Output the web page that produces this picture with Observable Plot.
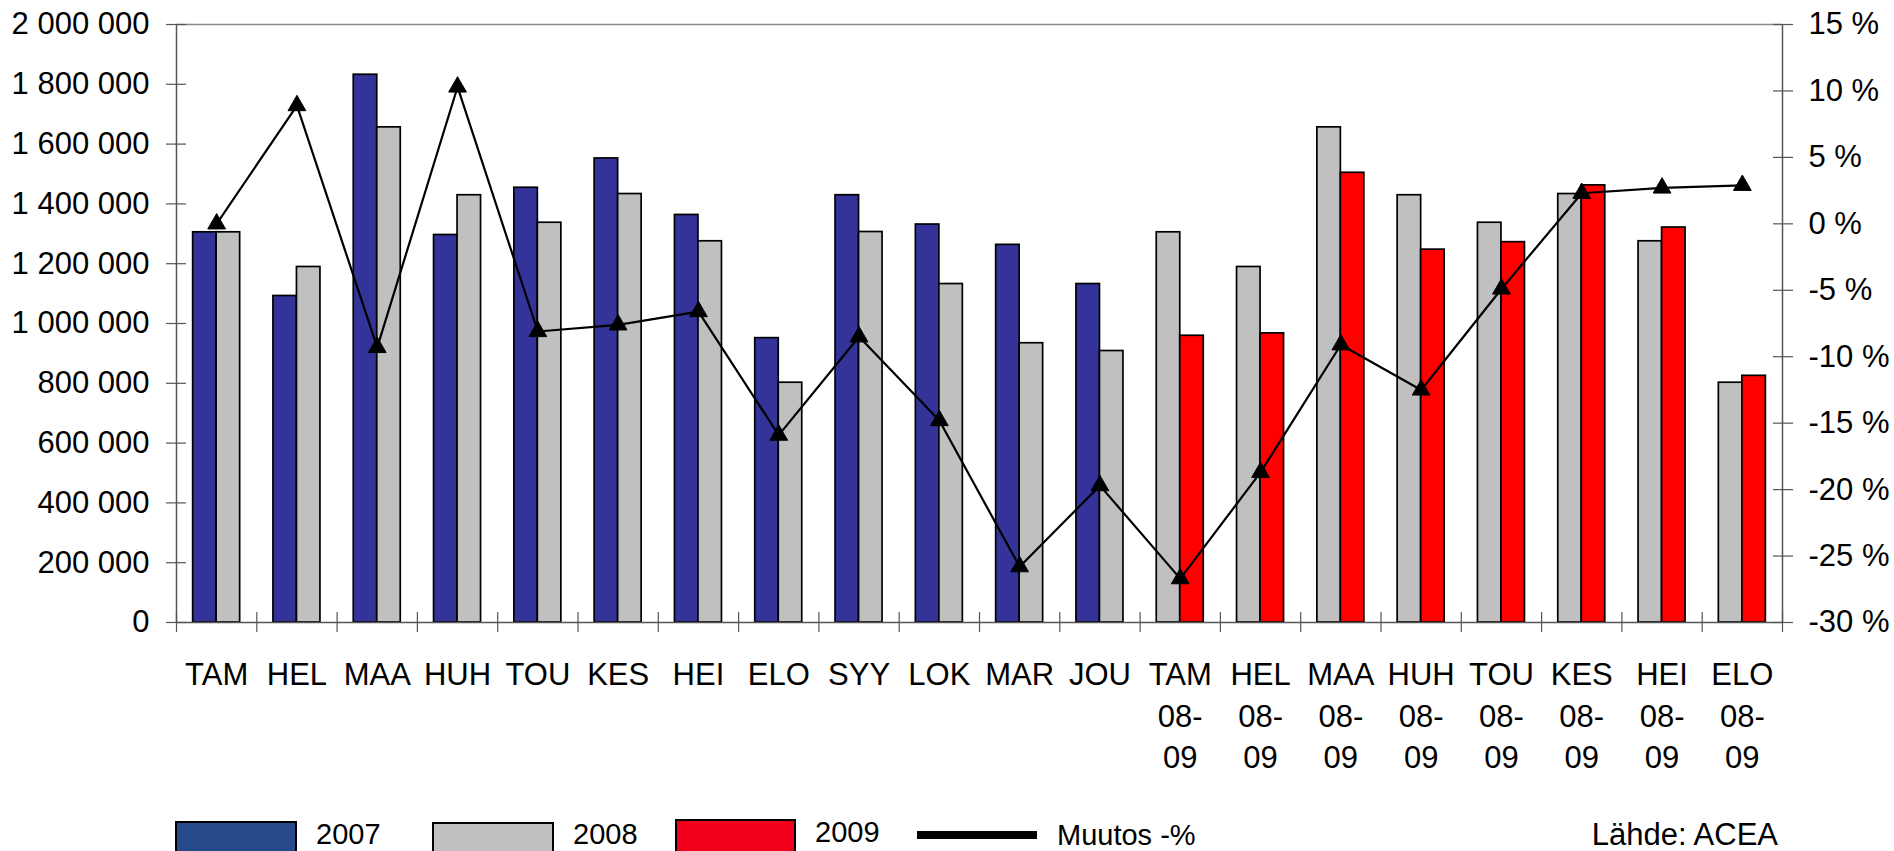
<!DOCTYPE html>
<html>
<head>
<meta charset="utf-8">
<script src="https://cdn.jsdelivr.net/npm/d3@7"></script>
<script src="https://cdn.jsdelivr.net/npm/@observablehq/plot@0.6"></script>
<style>
  html, body { margin: 0; padding: 0; background: #fff; overflow: hidden; }
  #chart svg { display: block; }
  #legend { position: relative; width: 1894px; height: 36px; overflow: hidden;
            font-family: "Liberation Sans", Arial, sans-serif; color: #000; }
  #legend .sw { position: absolute; box-sizing: border-box; height: 40px; border: 2px solid #000; }
  #legend .tx { position: absolute; font-size: 29px; line-height: 29px; white-space: nowrap; }
</style>
</head>
<body>
<div id="chart"></div>
<div id="legend"></div>
<script>
// ---- data ----
const categories = ["TAM","HEL","MAA","HUH","TOU","KES","HEI","ELO","SYY","LOK","MAR","JOU",
  "TAM 08-09","HEL 08-09","MAA 08-09","HUH 08-09","TOU 08-09","KES 08-09","HEI 08-09","ELO 08-09"];
const v2007 = [1305000,1092000,1832000,1296000,1454000,1552000,1363000,951000,1429000,1331000,1263000,1132000];
const v2008 = [1305000,1189000,1656000,1429000,1337000,1433000,1275000,802000,1306000,1132000,934000,908000];
const v2009 = [959000,967000,1504000,1247000,1272000,1462000,1321000,825000];
const change = [0.0,8.9,-9.3,10.3,-8.1,-7.6,-6.6,-15.9,-8.5,-14.8,-25.8,-19.7,-26.7,-18.7,-9.1,-12.5,-4.9,2.3,2.7,2.9];
const leftTicks = [0,200000,400000,600000,800000,1000000,1200000,1400000,1600000,1800000,2000000];
const pctTicks = [-30,-25,-20,-15,-10,-5,0,5,10,15];
const seriesNames = ["2007","2008","2009"];
const seriesColors = {"2007": "#333399", "2008": "#C0C0C0", "2009": "#FF0000"};

// ---- layout ----
const W = 1894, H = 815;
const mTop = 24, mBottom = H - 622, mLeft = 176, mRight = W - 1782;
const bandPx = (W - mLeft - mRight) / categories.length;
const barFrac = 23.5 / bandPx;          // single bar width as a fraction of a band
const yMax = 2000000, pMin = -30, pMax = 15;
const pctToY = p => (p - pMin) / (pMax - pMin) * yMax;
const yToPct = v => v / yMax * (pMax - pMin) + pMin;

const fmt = d3.formatLocale({decimal: ",", thousands: "\u00a0", grouping: [3], currency: ["", ""]}).format(",");

// ---- build tables ----
const bars = [];
categories.forEach((c, i) => {
  let left, right;
  if (i < 12) { left = {s: "2007", v: v2007[i]}; right = {s: "2008", v: v2008[i]}; }
  else { left = {s: "2008", v: v2008[i - 12]}; right = {s: "2009", v: v2009[i - 12]}; }
  bars.push({x1: i + 0.5 - barFrac, x2: i + 0.5, v: left.v, s: left.s});
  bars.push({x1: i + 0.5, x2: i + 0.5 + barFrac, v: right.v, s: right.s});
});
const line = change.map((p, i) => ({x: i + 0.5, y: pctToY(p)}));
const centers = categories.map((c, i) => i + 0.5);
const edges = d3.range(categories.length + 1);

const axisColor = "#555";

const chart = Plot.plot({
  width: W, height: H,
  marginTop: mTop, marginBottom: mBottom, marginLeft: mLeft, marginRight: mRight,
  style: {fontFamily: "'Liberation Sans', Arial, sans-serif", fontSize: "31px", background: "#fff", color: "#000"},
  x: {type: "linear", domain: [0, categories.length], axis: null},
  y: {domain: [0, yMax], axis: null},
  color: {domain: seriesNames, range: seriesNames.map(s => seriesColors[s])},
  marks: [
    // top border of plot area
    Plot.ruleY([yMax], {stroke: "#888", strokeWidth: 1.5}),
    // bars
    Plot.rectY(bars, {x1: "x1", x2: "x2", y1: 0, y2: "v", fill: "s", stroke: "#000", strokeWidth: 1.7}),
    // axis lines
    Plot.ruleX([0], {stroke: axisColor, strokeWidth: 1.5}),
    Plot.ruleX([categories.length], {stroke: axisColor, strokeWidth: 1.5}),
    Plot.ruleY([0], {stroke: axisColor, strokeWidth: 1.5}),
    // left axis: crossing ticks + labels
    Plot.axisY({anchor: "left", ticks: leftTicks, tickSize: 20, dx: 10, tickFormat: () => "", stroke: axisColor, strokeWidth: 1.2}),
    Plot.axisY({anchor: "left", ticks: leftTicks, tickSize: 0, tickPadding: 27, tickFormat: fmt, fontSize: 31, fill: "#000"}),
    // right axis (percent)
    Plot.axisY({anchor: "right", ticks: pctTicks.map(pctToY), tickSize: 20, dx: -10, tickFormat: () => "", stroke: axisColor, strokeWidth: 1.2}),
    Plot.axisY({anchor: "right", ticks: pctTicks.map(pctToY), tickSize: 0, tickPadding: 26,
      tickFormat: v => `${Math.round(yToPct(v))} %`, fontSize: 31, fill: "#000"}),
    // x axis: boundary ticks + centered labels
    Plot.axisX({anchor: "bottom", ticks: edges, tickSize: 20, dy: -10, tickFormat: () => "", stroke: axisColor, strokeWidth: 1.2}),
    Plot.axisX({anchor: "bottom", ticks: centers, tickSize: 0, tickPadding: 33, lineHeight: 1.34, fontSize: 31, fill: "#000",
      tickFormat: v => categories[Math.round(v - 0.5)].replace(" ", "\n").replace("-", "-\n")}),
    // change line
    Plot.line(line, {x: "x", y: "y", stroke: "#000", strokeWidth: 2.2}),
    Plot.dot(line, {x: "x", y: "y", symbol: "triangle", r: 6.6, fill: "#000", stroke: "#000", strokeWidth: 1})
  ]
});
document.getElementById("chart").appendChild(chart);

// ---- legend (below the SVG) ----
const legend = document.getElementById("legend");
const items = [
  {type: "sw", left: 175, top: 6, width: 122, bg: "#26498B"},
  {type: "tx", left: 316, top: 5, text: seriesNames[0]},
  {type: "sw", left: 432, top: 7, width: 122, bg: "#C0C0C0"},
  {type: "tx", left: 573, top: 5, text: seriesNames[1]},
  {type: "sw", left: 675, top: 4, width: 121, bg: "#F0001C"},
  {type: "tx", left: 815, top: 3, text: seriesNames[2]},
  {type: "ln", left: 917, top: 16, width: 120},
  {type: "tx", left: 1057, top: 6, text: "Muutos -%"}
];
for (const it of items) {
  const el = document.createElement("div");
  if (it.type === "sw") {
    el.className = "sw";
    Object.assign(el.style, {left: it.left + "px", top: it.top + "px", width: it.width + "px", background: it.bg});
  } else if (it.type === "ln") {
    Object.assign(el.style, {position: "absolute", left: it.left + "px", top: it.top + "px", width: it.width + "px", height: "8px", background: "#000"});
  } else {
    el.className = "tx";
    el.textContent = it.text;
    Object.assign(el.style, {left: it.left + "px", top: it.top + "px"});
  }
  legend.appendChild(el);
}
const src = document.createElement("div");
src.className = "tx";
src.textContent = "Lähde: ACEA";
Object.assign(src.style, {right: "116px", top: "4px", fontSize: "31px", lineHeight: "31px"});
legend.appendChild(src);
</script>
</body>
</html>
